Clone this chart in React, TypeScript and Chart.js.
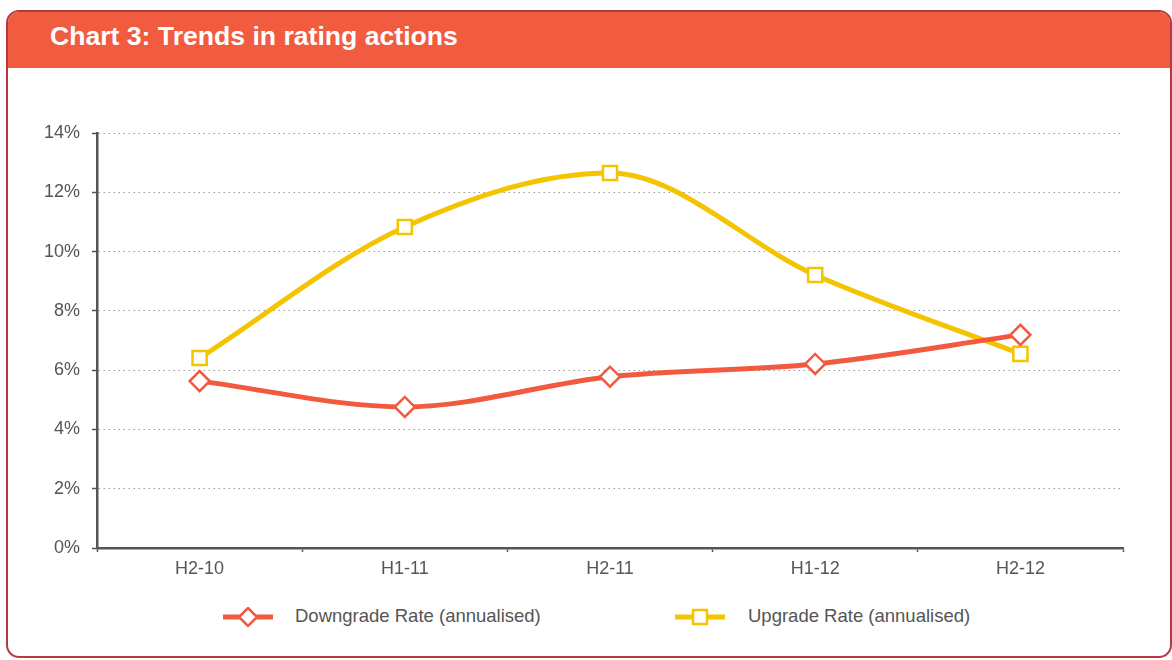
import React, { useEffect, useRef } from "react";
import { Chart, registerables } from "chart.js";

Chart.register(...registerables);

const categories = ["H2-10", "H1-11", "H2-11", "H1-12", "H2-12"];
const downgradeRate = [5.63, 4.76, 5.78, 6.21, 7.19];
const upgradeRate = [6.41, 10.83, 12.65, 9.21, 6.55];
const yTicks = [0, 2, 4, 6, 8, 10, 12, 14];

const RED = "#f15a3f";
const YELLOW = "#f5c400";
const AXIS = "#555555";
const TEXT = "#555555";
const FONT = "'Liberation Sans', Arial, sans-serif";

export default function App() {
  const ref = useRef<HTMLCanvasElement | null>(null);

  useEffect(() => {
    if (!ref.current) return;
    const chart = new Chart(ref.current, {
      type: "line",
      data: {
        labels: categories,
        datasets: [
          {
            label: "Downgrade Rate (annualised)",
            data: downgradeRate,
            borderColor: RED,
            backgroundColor: "#ffffff",
            borderWidth: 5,
            cubicInterpolationMode: "monotone",
            pointStyle: "rectRot",
            pointRadius: 10,
            pointBorderWidth: 2.5,
            pointBorderColor: RED,
            pointBackgroundColor: "#ffffff",
          },
          {
            label: "Upgrade Rate (annualised)",
            data: upgradeRate,
            borderColor: YELLOW,
            backgroundColor: "#ffffff",
            borderWidth: 5,
            cubicInterpolationMode: "monotone",
            pointStyle: "rect",
            pointRadius: 10,
            pointBorderWidth: 2.5,
            pointBorderColor: YELLOW,
            pointBackgroundColor: "#ffffff",
          },
        ],
      },
      options: {
        animation: false,
        responsive: false,
        maintainAspectRatio: false,
        layout: { padding: { top: 63, right: 45, left: 0, bottom: 0 } },
        plugins: {
          legend: { display: false },
          tooltip: { enabled: false },
        },
        scales: {
          x: {
            offset: true,
            grid: {
              offset: true,
              drawOnChartArea: false,
              drawTicks: true,
              tickLength: 4,
              tickColor: AXIS,
              tickWidth: 1.5,
            },
            border: { display: true, color: AXIS, width: 2.5 },
            ticks: {
              color: TEXT,
              font: { family: FONT, size: 18 },
              padding: 6,
              maxRotation: 0,
            },
            afterFit: (s: any) => {
              s.height = 42;
            },
          },
          y: {
            min: 0,
            max: 14,
            afterBuildTicks: (s: any) => {
              s.ticks = yTicks.map((v) => ({ value: v }));
            },
            grid: {
              color: "#9a9a9a",
              lineWidth: 1,
              drawTicks: true,
              tickLength: 5,
              tickColor: AXIS,
              tickWidth: 1.5,
              tickBorderDash: [],
            },
            border: { display: true, color: AXIS, width: 2.5, dash: [1.5, 3.5] },
            ticks: {
              color: TEXT,
              font: { family: FONT, size: 18 },
              padding: 12,
              callback: (v: any) => `${v}%`,
            },
            afterFit: (s: any) => {
              s.width = 89;
            },
          },
        },
      },
    });
    return () => chart.destroy();
  }, []);

  return (
    <div
      style={{
        position: "absolute",
        left: 6,
        top: 10,
        width: 1166,
        height: 648,
        boxSizing: "border-box",
        border: "2px solid #b53a3f",
        borderRadius: 13,
        overflow: "hidden",
        background: "#ffffff",
        fontFamily: FONT,
      }}
    >
      <div
        style={{
          position: "absolute",
          left: 0,
          top: 0,
          right: 0,
          height: 56,
          background: "#f15b40",
        }}
      >
        <div
          style={{
            position: "absolute",
            left: 42,
            top: 9,
            color: "#ffffff",
            fontWeight: "bold",
            fontSize: 26.6,
            lineHeight: "30px",
            whiteSpace: "nowrap",
          }}
        >
          Chart 3: Trends in rating actions
        </div>
      </div>
      <canvas
        ref={ref}
        width={1160}
        height={520}
        style={{ position: "absolute", left: 0, top: 58, width: 1160, height: 520 }}
      />
      <div style={{ position: "absolute", left: 214, top: 595, width: 52, height: 20 }}>
        <svg width="52" height="20">
          <line x1="1" y1="10" x2="51" y2="10" stroke={RED} strokeWidth="5" />
          <polygon points="26,1 35,10 26,19 17,10" fill="#fff" stroke={RED} strokeWidth="2.5" />
        </svg>
      </div>
      <div
        style={{
          position: "absolute",
          left: 287,
          top: 593,
          fontSize: 18.5,
          lineHeight: "22px",
          color: TEXT,
          whiteSpace: "nowrap",
        }}
      >
        Downgrade Rate (annualised)
      </div>
      <div style={{ position: "absolute", left: 666, top: 595, width: 52, height: 20 }}>
        <svg width="52" height="20">
          <line x1="1" y1="10" x2="51" y2="10" stroke={YELLOW} strokeWidth="5" />
          <rect x="19" y="3" width="14" height="14" fill="#fff" stroke={YELLOW} strokeWidth="2.5" />
        </svg>
      </div>
      <div
        style={{
          position: "absolute",
          left: 740,
          top: 593,
          fontSize: 18.5,
          lineHeight: "22px",
          color: TEXT,
          whiteSpace: "nowrap",
        }}
      >
        Upgrade Rate (annualised)
      </div>
    </div>
  );
}
